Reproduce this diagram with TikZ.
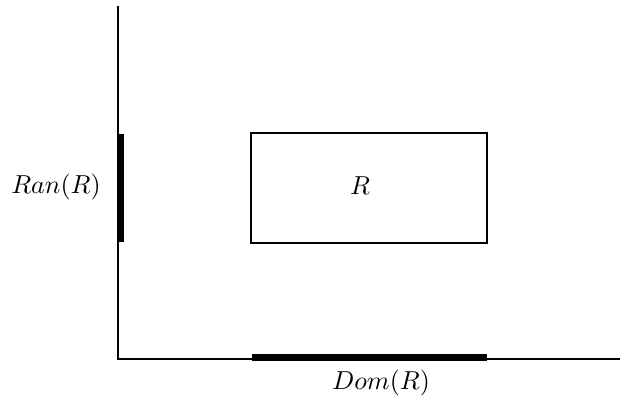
\documentclass[tikz,border=0pt]{standalone}
\begin{document}
\begin{tikzpicture}[x=0.385pt,y=-0.385pt,
  axis/.style={line width=0.8pt},
  proj/.style={line width=3pt},
  lbl/.style={inner sep=0pt}]
\useasboundingbox (0,0) rectangle (620,400);
\coordinate (top) at (118,6);
\coordinate (origin) at (118,359);
\coordinate (right) at (620,359);
\draw[axis] (top) -- (origin) -- (right);
\node[draw,line width=0.8pt,minimum width=236*0.385pt,minimum height=110*0.385pt,inner sep=0pt] (rel) at (369,188) {};
\node[lbl] (rlabel) at (360,186) {$R$};
\coordinate (ran1) at (120.5,134);
\coordinate (ran2) at (120.5,242);
\draw[proj] (ran1) -- (ran2);
\coordinate (dom1) at (252,357.5);
\coordinate (dom2) at (487,357.5);
\draw[proj] (dom1) -- (dom2);
\node[lbl] (ranlabel) at (56,187) {$Ran(R)$};
\node[lbl] (domlabel) at (381,383) {$Dom(R)$};
\end{tikzpicture}
\end{document}
